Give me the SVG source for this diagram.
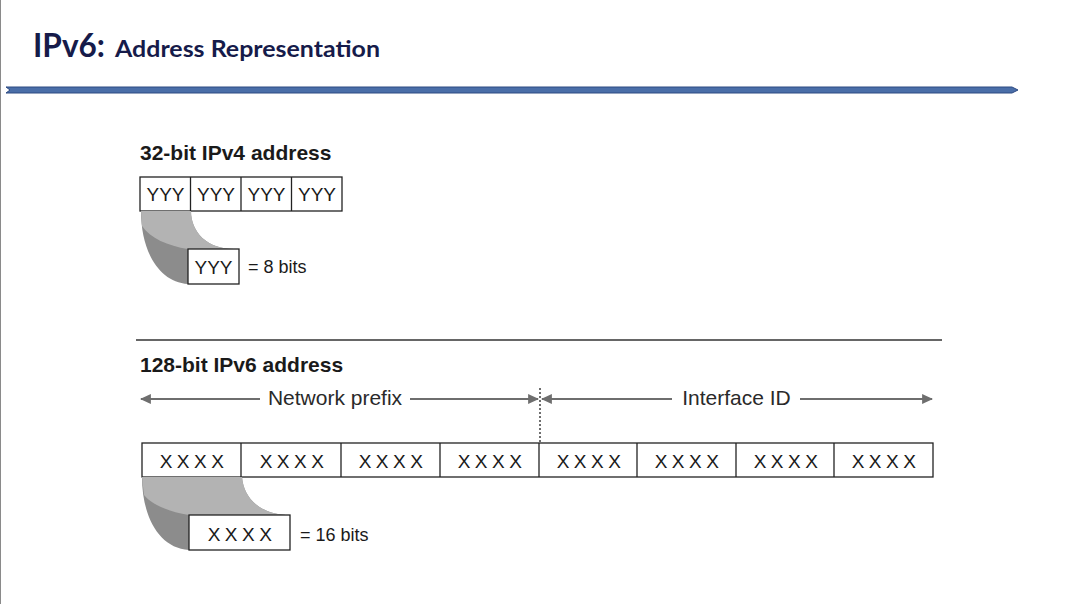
<svg xmlns="http://www.w3.org/2000/svg" width="1076" height="604" viewBox="0 0 1076 604">
<defs>
<style>
.t{font-family:"Liberation Sans",Arial,sans-serif;fill:#1a1a1a}
.h{font-size:21px;font-weight:bold}
.c{font-size:19px;text-anchor:middle}
.x{font-size:19px;text-anchor:middle;letter-spacing:4.5px}
.lbl{font-size:18px}
.lbl2{font-size:21px;text-anchor:middle;fill:#2a2a2a}
.box{fill:#fff;stroke:#222;stroke-width:1.3}
.arr{stroke:#6e6e6e;stroke-width:2;fill:none}
.dark{fill:#8c8c8c}
.light{fill:#b3b3b3}
</style>
<marker id="ah" viewBox="0 0 10 10" refX="9" refY="5" markerWidth="11" markerHeight="11" markerUnits="userSpaceOnUse" orient="auto-start-reverse">
<path d="M0,0.5 L10,5 L0,9.5 Z" fill="#6e6e6e"/>
</marker>
</defs>
<rect width="1076" height="604" fill="#fff"/>
<line x1="0.5" y1="0" x2="0.5" y2="604" stroke="#8a8a8a" stroke-width="1"/>

<g id="title">
<text x="33" y="57" font-family="Lato,'Open Sans',sans-serif" font-weight="bold" font-size="32" fill="#161b4a" textLength="72" lengthAdjust="spacingAndGlyphs">IPv6:</text>
<text x="115" y="57" font-family="Lato,'Open Sans',sans-serif" font-weight="bold" font-size="22" fill="#161b4a" textLength="265" lengthAdjust="spacingAndGlyphs">Address Representation</text>
<path d="M6,87 L1012,87 L1018,90 L1012,93 L6,93 L10,90 Z" fill="#4a6ea8" stroke="#2d4a82" stroke-width="1"/>
</g>

<g id="ipv4">
<text class="t h" x="140" y="160">32-bit IPv4 address</text>
<g id="ipv4-cells">
<rect class="box" x="140" y="177" width="202" height="34"/>
<line x1="190.5" y1="177" x2="190.5" y2="211" stroke="#222" stroke-width="1.3"/>
<line x1="241" y1="177" x2="241" y2="211" stroke="#222" stroke-width="1.3"/>
<line x1="291.5" y1="177" x2="291.5" y2="211" stroke="#222" stroke-width="1.3"/>
<text class="t c" x="165.5" y="201">YYY</text>
<text class="t c" x="216" y="201">YYY</text>
<text class="t c" x="266.5" y="201">YYY</text>
<text class="t c" x="317" y="201">YYY</text>
</g>
<g id="ipv4-zoom">
<path class="dark" d="M141,211 L191,211 C191,232 207,249 234,249 L188,249 L188,284 C158,282 141,250 141,211 Z"/>
<path class="light" d="M141,211 L191,211 C191,232 207,249 234,249 L188,249 C168,246 150,238 142,226 Z"/>
<rect class="box" x="188" y="249" width="51" height="35"/>
<text class="t c" x="213.5" y="274">YYY</text>
<text class="t lbl" x="248" y="273">= 8 bits</text>
</g>
</g>

<line x1="136" y1="340" x2="942" y2="340" stroke="#333" stroke-width="1.3"/>

<g id="ipv6">
<text class="t h" x="140" y="372">128-bit IPv6 address</text>
<g id="connectors">
<line class="arr" x1="141" y1="399" x2="260" y2="399" marker-start="url(#ah)"/>
<line class="arr" x1="410" y1="399" x2="538" y2="399" marker-end="url(#ah)"/>
<line class="arr" x1="542" y1="399" x2="672" y2="399" marker-start="url(#ah)"/>
<line class="arr" x1="800" y1="399" x2="932" y2="399" marker-end="url(#ah)"/>
<line x1="540" y1="388" x2="540" y2="447" stroke="#6e6e6e" stroke-width="2" stroke-dasharray="2,2"/>
</g>
<text class="t lbl2" x="335" y="405">Network prefix</text>
<text class="t lbl2" x="736.5" y="405">Interface ID</text>
<g id="ipv6-cells">
<rect class="box" x="142" y="443" width="791" height="34"/>
<line x1="241" y1="443" x2="241" y2="477" stroke="#222" stroke-width="1.3"/>
<line x1="341" y1="443" x2="341" y2="477" stroke="#222" stroke-width="1.3"/>
<line x1="440" y1="443" x2="440" y2="477" stroke="#222" stroke-width="1.3"/>
<line x1="539" y1="443" x2="539" y2="477" stroke="#222" stroke-width="1.3"/>
<line x1="637" y1="443" x2="637" y2="477" stroke="#222" stroke-width="1.3"/>
<line x1="736" y1="443" x2="736" y2="477" stroke="#222" stroke-width="1.3"/>
<line x1="834" y1="443" x2="834" y2="477" stroke="#222" stroke-width="1.3"/>
<text class="t x" x="194" y="468">XXXX</text>
<text class="t x" x="294" y="468">XXXX</text>
<text class="t x" x="393" y="468">XXXX</text>
<text class="t x" x="492" y="468">XXXX</text>
<text class="t x" x="591" y="468">XXXX</text>
<text class="t x" x="689" y="468">XXXX</text>
<text class="t x" x="788" y="468">XXXX</text>
<text class="t x" x="886" y="468">XXXX</text>
</g>
<g id="ipv6-zoom">
<path class="dark" d="M142,477 L242,477 C244,500 262,515 290,515 L189,515 L189,550 C158,548 142,515 142,477 Z"/>
<path class="light" d="M142,477 L242,477 C244,500 262,515 290,515 L189,515 C170,512 152,505 144,495 Z"/>
<rect class="box" x="189" y="515" width="101" height="35"/>
<text class="t x" x="242" y="541">XXXX</text>
<text class="t lbl" x="300" y="541">= 16 bits</text>
</g>
</g>
</svg>
